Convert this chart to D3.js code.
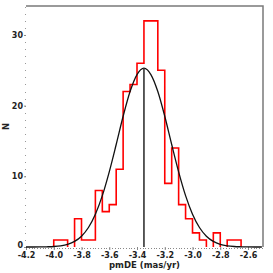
<!DOCTYPE html>
<html>
<head>
<meta charset="utf-8">
<script src="https://cdn.jsdelivr.net/npm/d3@7"></script>
<style>
  body { margin: 0; background: #fff; }
  text { font-family: "DejaVu Sans", sans-serif; fill: #222; }
</style>
</head>
<body>
<div id="chart"></div>
<script>
// histogram of pmDE, 0.05 wide bins starting at -4.00
const binStarts = [-4.00, -3.95, -3.90, -3.85, -3.80, -3.75, -3.70, -3.65, -3.60, -3.55,
  -3.50, -3.45, -3.40, -3.35, -3.30, -3.25, -3.20, -3.15, -3.10, -3.05,
  -3.00, -2.95, -2.90, -2.85, -2.80, -2.75, -2.70];
const binCounts = [1, 1, 0, 4, 1, 1, 8, 5, 6, 11,
  22, 23, 26, 32, 32, 25, 9, 14, 6, 4,
  2, 1, 0, 2, 0, 1, 1];
const binWidth = 0.05;

// fitted curve
const curveX = [-4.20, -4.15, -4.10, -4.05, -4.00, -3.95, -3.90, -3.85, -3.80, -3.75,
  -3.70, -3.65, -3.60, -3.55, -3.50, -3.45, -3.40, -3.35, -3.30, -3.25,
  -3.20, -3.15, -3.10, -3.05, -3.00, -2.95, -2.90, -2.85, -2.80, -2.75,
  -2.70, -2.65, -2.60, -2.55, -2.50];
const curveY = [0.00, 0.00, 0.01, 0.03, 0.07, 0.17, 0.38, 0.79, 1.53, 2.76,
  4.64, 7.27, 10.64, 14.5, 18.5, 22.0, 24.4, 25.3, 24.4, 22.0,
  18.5, 14.5, 10.64, 7.27, 4.64, 2.76, 1.53, 0.79, 0.38, 0.17,
  0.07, 0.03, 0.01, 0.00, 0.00];
const meanValue = -3.35;
const meanPeak = 25.3;

const xTicks = [-4.2, -4.0, -3.8, -3.6, -3.4, -3.2, -3.0, -2.8, -2.6];
const yTicks = [0, 10, 20, 30];

const width = 273, height = 273;
const margin = {top: 6, right: 10, bottom: 26, left: 26};

const x = d3.scaleLinear().domain([-4.2, -2.492]).range([margin.left, width - margin.right]);
const y = d3.scaleLinear().domain([0, 34.1]).range([height - margin.bottom, margin.top]);

const svg = d3.select('#chart').append('svg')
  .attr('width', width)
  .attr('height', height);

const x0 = x.range()[0], x1 = x.range()[1];
const y0 = y.range()[0], y1 = y.range()[1];

// frame (top and right)
svg.append('path')
  .attr('d', `M${x0},${y1}H${x1}V${y0}`)
  .attr('fill', 'none')
  .attr('stroke', '#7a7a7a')
  .attr('stroke-width', 1.5);

// minor ticks
svg.append('g').selectAll('rect')
  .data(d3.range(0, 35))
  .enter().append('rect')
    .attr('x', x0 - 1)
    .attr('y', d => Math.round(y(d)))
    .attr('width', 1)
    .attr('height', 1)
    .attr('fill', '#999');

svg.append('g').selectAll('rect')
  .data(d3.range(-4.2, -2.49, 0.02))
  .enter().append('rect')
    .attr('x', d => Math.round(x(d)))
    .attr('y', y0 + 1)
    .attr('width', 1)
    .attr('height', 1)
    .attr('fill', '#888');

// major ticks + labels
const xAxis = d3.axisBottom(x).tickValues(xTicks).tickSize(3).tickPadding(2.5)
  .tickFormat(d => d.toFixed(1));
svg.append('g')
  .attr('transform', `translate(0,${y0})`)
  .call(xAxis)
  .call(g => g.select('.domain').remove())
  .call(g => g.selectAll('line').attr('stroke', '#888'))
  .call(g => g.selectAll('text').attr('font-size', 8).attr('font-weight', 'bold').attr('fill', '#222')
    .attr('font-family', '"DejaVu Sans", sans-serif'));

const yAxis = d3.axisLeft(y).tickValues(yTicks).tickSize(2).tickPadding(1);
svg.append('g')
  .attr('transform', `translate(${x0},0)`)
  .call(yAxis)
  .call(g => g.select('.domain').remove())
  .call(g => g.selectAll('line').attr('stroke', '#888'))
  .call(g => g.selectAll('text').attr('font-size', 8).attr('font-weight', 'bold').attr('fill', '#222')
    .attr('font-family', '"DejaVu Sans", sans-serif'))
  .call(g => g.selectAll('.tick').filter(d => d === 0).select('text').attr('dy', '0.1em'));

// axis titles
svg.append('text')
  .attr('x', (x0 + x1) / 2)
  .attr('y', 268)
  .attr('text-anchor', 'middle')
  .attr('font-size', 8.5)
  .attr('font-weight', 'bold')
  .text('pmDE (mas/yr)');

svg.append('text')
  .attr('transform', `translate(9,${(y0 + y1) / 2}) rotate(-90)`)
  .attr('text-anchor', 'middle')
  .attr('font-size', 8.5)
  .attr('font-weight', 'bold')
  .text('N');

// histogram outline, one path per run of non-empty bins
const bins = binStarts.map((s, i) => ({x0: s, x1: s + binWidth, n: binCounts[i]}));
const runs = [];
let cur = null;
bins.forEach(b => {
  if (b.n > 0) {
    if (!cur) { cur = []; runs.push(cur); }
    cur.push(b);
  } else {
    cur = null;
  }
});

const plot = svg.append('g');
plot.selectAll('path.hist')
  .data(runs)
  .enter().append('path')
    .attr('class', 'hist')
    .attr('fill', 'none')
    .attr('stroke', '#ff0000')
    .attr('stroke-width', 1.6)
    .attr('d', run => {
      let d = `M${x(run[0].x0)},${y(0)}`;
      run.forEach(b => { d += `V${y(b.n)}H${x(b.x1)}`; });
      return d + `V${y(0)}`;
    });

// fitted curve
const line = d3.line()
  .x((d, i) => x(curveX[i]))
  .y(d => y(d))
  .curve(d3.curveMonotoneX);

plot.append('path')
  .datum(curveY)
  .attr('fill', 'none')
  .attr('stroke', '#111')
  .attr('stroke-width', 1.3)
  .attr('d', line);

// mean marker
plot.append('line')
  .attr('x1', x(meanValue)).attr('x2', x(meanValue))
  .attr('y1', y(0)).attr('y2', y(meanPeak))
  .attr('stroke', '#333')
  .attr('stroke-width', 1.6);
</script>
</body>
</html>
